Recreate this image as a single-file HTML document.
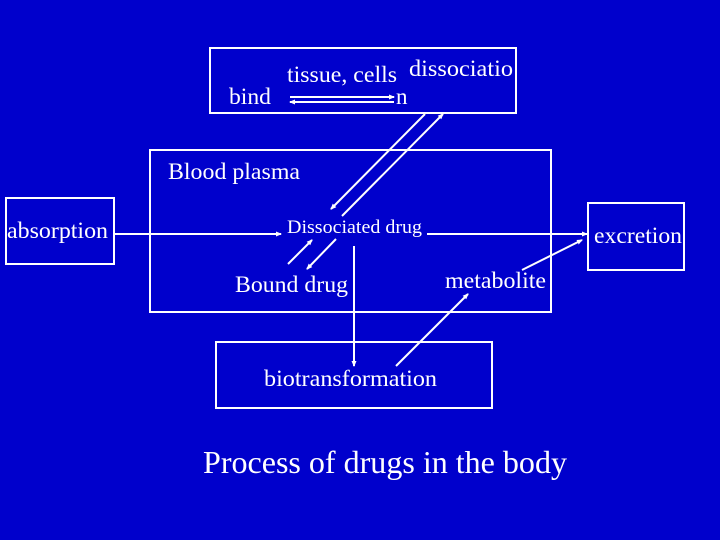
<!DOCTYPE html>
<html><head><meta charset="utf-8"><style>
body{margin:0;width:720px;height:540px;background:#0000cc;overflow:hidden}
svg{display:block}
text{font-family:"Liberation Serif",serif;fill:#fff}
</style></head><body>
<svg width="720" height="540" viewBox="0 0 720 540">
<defs><marker id="a" markerWidth="6" markerHeight="6" refX="5" refY="3" orient="auto" markerUnits="userSpaceOnUse"><path d="M0,0.5 L6,3 L0,5.5z" fill="#fff"/></marker></defs>
<g fill="none" stroke="#fff" stroke-width="2">
<rect x="210" y="48" width="306" height="65"/>
<rect x="150" y="150" width="401" height="162"/>
<rect x="6" y="198" width="108" height="66"/>
<rect x="588" y="203" width="96" height="67"/>
<rect x="216" y="342" width="276" height="66"/>
</g>
<g stroke="#fff" stroke-width="2" fill="none">
<line x1="290" y1="97" x2="394" y2="97" marker-end="url(#a)"/>
<line x1="394" y1="102" x2="290" y2="102" marker-end="url(#a)"/>
<line x1="425" y1="114" x2="331" y2="209" marker-end="url(#a)"/>
<line x1="342" y1="216" x2="443" y2="114" marker-end="url(#a)"/>
<line x1="114" y1="234" x2="281" y2="234" marker-end="url(#a)"/>
<line x1="427" y1="234" x2="587" y2="234" marker-end="url(#a)"/>
<line x1="522" y1="270" x2="582" y2="240" marker-end="url(#a)"/>
<line x1="288" y1="264" x2="312" y2="240" marker-end="url(#a)"/>
<line x1="336" y1="239" x2="307" y2="269" marker-end="url(#a)"/>
<line x1="354" y1="246" x2="354" y2="366" marker-end="url(#a)"/>
<line x1="396" y1="366" x2="468" y2="294" marker-end="url(#a)"/>
</g>
<text x="287" y="82" font-size="23" textLength="110" lengthAdjust="spacingAndGlyphs">tissue, cells</text>
<text x="409" y="76" font-size="23" textLength="104" lengthAdjust="spacingAndGlyphs">dissociatio</text>
<text x="396" y="104" font-size="23">n</text>
<text x="229" y="104" font-size="23" textLength="42" lengthAdjust="spacingAndGlyphs">bind</text>
<text x="168" y="179" font-size="23" textLength="132" lengthAdjust="spacingAndGlyphs">Blood plasma</text>
<text x="7" y="238" font-size="23" textLength="101" lengthAdjust="spacingAndGlyphs">absorption</text>
<text x="287" y="233" font-size="19" textLength="135" lengthAdjust="spacingAndGlyphs">Dissociated drug</text>
<text x="594" y="243" font-size="23" textLength="88" lengthAdjust="spacingAndGlyphs">excretion</text>
<text x="235" y="292" font-size="23" textLength="113" lengthAdjust="spacingAndGlyphs">Bound drug</text>
<text x="445" y="288" font-size="23" textLength="101" lengthAdjust="spacingAndGlyphs">metabolite</text>
<text x="264" y="386" font-size="23" textLength="173" lengthAdjust="spacingAndGlyphs">biotransformation</text>
<text x="203" y="473" font-size="32" textLength="364" lengthAdjust="spacingAndGlyphs">Process of drugs in the body</text>
</svg>
</body></html>
